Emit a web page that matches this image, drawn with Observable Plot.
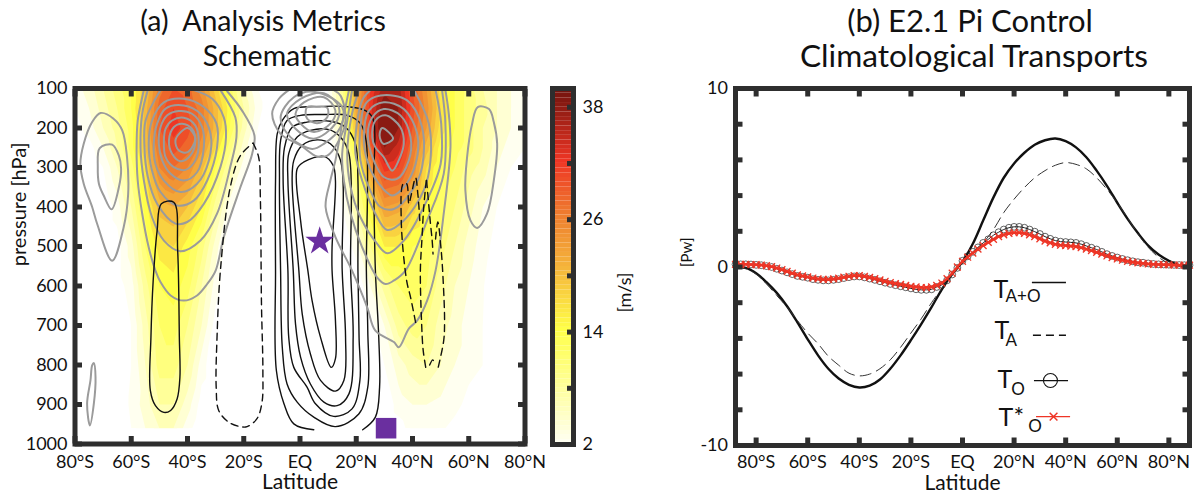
<!DOCTYPE html>
<html><head><meta charset="utf-8">
<script src="https://cdn.jsdelivr.net/npm/d3@7"></script>
<script src="https://cdn.jsdelivr.net/npm/@observablehq/plot@0.6"></script>
<style>
html,body{margin:0;padding:0;background:#fff;font-family:Lato,sans-serif}
#root{position:relative;width:1204px;height:496px;overflow:hidden}
#root svg{position:absolute;top:0;overflow:visible}
.ttl{position:absolute;text-align:center;line-height:36px;color:#111;white-space:pre}
</style></head><body><div id="root"></div>
<script>
// ---- zonal wind field (m/s), rows by pressure, columns by latitude
const gridLat=[-80,-75,-70,-65,-60,-55,-50,-45,-40,-35,-30,-25,-20,-15,-10,-5,0,5,10,15,20,25,30,35,40,45,50,55,60,65,70,75,80];
const gridP=[100,150,200,250,300,400,500,600,700,800,900,960];
const u100=[3,5,8,11,14,20,27,30,29,25,19,13,6,2,0,0,0,0,2,9,22,32,37,37,30,24,17,14,11,8,6,4,3];
const u150=[2,4,7,10,14,21,29,32,30,27,21,15,8,3,0,0,0,0,1,9,23,33,40,38,31,25,18,14,11,9,6,4,3];
const u200=[1,3,6,9,13,21,30,33,31,27,21,14,7,2,0,0,0,0,1,8,21,33,42,38,30,24,17,14,11,8,6,4,2];
const u250=[0,1,4,8,13,20,28,31,29,25,18,11,5,1,0,0,0,0,0,6,16,29,38,35,28,21,15,13,11,8,5,3,2];
const u300=[0,0,2,6,11,18,26,28,26,21,14,8,3,0,0,0,0,0,0,4,12,24,33,32,26,18,14,12,9,7,4,2,1];
const u400=[0,0,0,3,8,15,21,22,20,16,9,3,0,0,0,0,0,0,0,2,8,16,24,23,19,15,13,10,7,4,2,0,0];
const u500=[0,0,0,1,5,12,17,18,15,11,5,0,0,0,0,0,0,0,0,0,3,10,16,16,14,13,11,8,5,3,1,0,0];
const u600=[0,0,0,1,3,9,14,15,13,8,3,0,0,0,0,0,0,0,0,0,0,4,9,12,13,12,9,6,4,2.2,0,0,0];
const u700=[0,0,0,0,2,7,12,13,10,6,1,0,0,0,0,0,0,0,0,0,0,1,4,9,11,10,7,5,3,2,0,0,0];
const u800=[0,0,0,0,2,6,11,11,8,3,0,0,0,0,0,0,0,0,0,0,0,0,2,5,7,8,6,4,3,2,0,0,0];
const u900=[0,0,0,0,2.5,5,8,8,5,1,0,0,0,0,0,0,0,0,0,0,0,0,0,3,4,4,3.5,3,1,0,0,0,0];
const u960=[0,0,0,0,2,4,6,6,3,0,0,0,0,0,0,0,0,0,0,0,0,0,0,1,3,3,2.5,1,0,0,0,0,0];
const windRows=[u100,u150,u200,u250,u300,u400,u500,u600,u700,u800,u900,u960];
const windLevels=[2,4,6,8,10,12,14,16,18,20,22,24,26,28,30,32,34,36,38];
const colorStops=[2,8,14,20,26,32,38,40];
const colorHex=["#fffff0","#ffff99","#ffff48","#f6bb3c","#ee8030","#ee3524","#8a1a12","#6d120c"];

// ---- grey contours, closed [lat,pressure]
const gFarS1=[[-70.9,162],[-66.2,177],[-63.2,206],[-61.5,274],[-61.1,367],[-62.7,451],[-66.8,536],[-72.1,443],[-73.9,400],[-76.9,341],[-78.1,291],[-76.9,240],[-73.9,185]];
const gFarS2=[[-71.2,251],[-66.8,242],[-64.4,270],[-63.6,303],[-64.4,350],[-67,406],[-69.8,371],[-71.5,341],[-71.9,299]];
const gFarS3=[[-73.3,795],[-72.7,831],[-73.3,898],[-74.7,953],[-75.7,898],[-74.5,839],[-73.9,801]];
const gS4=[[-53.8,240],[-52.6,308],[-49.6,362],[-43.7,396],[-37.8,384],[-33,333],[-29.5,249],[-29.7,189],[-34.2,147],[-41.3,126],[-48.4,135],[-52.6,181]];
const gS5=[[-52,240],[-51.4,291],[-48.4,333],[-42.5,362],[-36.6,341],[-32.4,282],[-31.8,215],[-35.4,164],[-41.3,143],[-47.8,151],[-50.8,189]];
const gS6=[[-50.2,240],[-49,282],[-46,316],[-41.3,333],[-36.6,312],[-34.2,249],[-34.8,198],[-38.4,164],[-43.1,157],[-47.2,168],[-49.6,198]];
const gS7=[[-48.4,232],[-47.8,274],[-44.9,299],[-40.7,306],[-37.2,282],[-36,236],[-37.2,194],[-41.3,174],[-45.5,181],[-47.8,202]];
const gS8=[[-46.6,232],[-45.5,265],[-42.5,284],[-39,270],[-37.2,232],[-38.4,202],[-41.9,189],[-44.9,198]];
const gS9=[[-44.3,232],[-43.1,257],[-39.9,261],[-37.2,227],[-39.9,200],[-42.5,211]];
const gT1=[[2,164],[2.6,147],[6.1,146],[9.7,149],[9.7,173],[6.1,188],[2.6,177]];
const gT2=[[-1.6,164],[1.4,135],[8.5,122],[12.6,156],[10.8,189],[4.9,210],[0.2,189]];
const gT3=[[-4.6,164],[0.2,126],[8.5,112],[13.8,147],[12.6,189],[4.9,227],[-1.6,202]];
const gT4=[[-6.9,173],[-2.2,122],[4.9,108],[15,147],[14.4,198],[8.5,240],[4.3,253],[-3.4,223]];
const gN1=[[29.2,200],[33.1,227],[29.6,240],[28.3,219]];
const gN2=[[25.7,223],[26.8,181],[30.4,168],[35.7,198],[36.9,240],[35.1,282],[32.8,308],[29.8,274],[26.8,249]];
const gN3=[[24.1,215],[25.7,173],[29.8,152],[35.7,168],[39.3,223],[38.7,282],[34.5,329],[29.8,324],[26.2,282]];
const gN4=[[22.7,223],[24.5,156],[29.8,135],[36.9,152],[41.7,215],[41.1,291],[36.9,350],[32.8,371],[28,341],[23.9,282]];
const gN5=[[21.3,215],[23.3,139],[28.6,118],[38.1,130],[43.4,198],[43.4,299],[39.9,358],[33.4,405],[28.6,400],[24.5,350],[21.5,282]];
const gFarN=[[63.2,147],[67.2,152],[68.9,185],[70.1,240],[68.9,333],[66.5,417],[63,453],[60.6,434],[58.8,358],[59.4,274],[61.2,189]];
// ---- grey contours, open at the top of the panel
const gS1=[[-25.9,107],[-20.6,156],[-16.2,219],[-17,265],[-21.2,350],[-27.1,476],[-30,561],[-33,595],[-36.6,624],[-41.3,637],[-46,624],[-49.6,590],[-51.4,561],[-53.8,502],[-56.1,417],[-57.7,333],[-58.1,249],[-57.7,181],[-56.1,122],[-55.5,104]];
const gS2=[[-28.3,104],[-23,173],[-22.6,223],[-24.8,299],[-29.5,417],[-35.4,485],[-42.5,512],[-48.4,485],[-52.6,426],[-55.5,333],[-56.7,249],[-56.1,164],[-54.1,104]];
const gS3=[[-49.6,104],[-54.9,181],[-55.3,249],[-54.1,324],[-50.8,392],[-44.3,442],[-40.1,438],[-34.2,392],[-28.3,299],[-26.3,223],[-27.1,173],[-31.2,126],[-37.8,104]];
const gT5=[[-4,104],[-7.5,126],[-9.9,164],[-6.9,215],[0.2,244],[6.1,272],[9.7,270],[13.2,240],[16.2,181],[14.4,118],[12,104]];
const gN6=[[25.1,104],[22.1,130],[19.7,223],[19.7,265],[22.1,333],[26.8,417],[31,458],[36.9,434],[44,358],[46.4,282],[45.8,189],[40.5,104]];
const gN7=[[21,104],[18.5,164],[16.8,265],[18,350],[21.5,426],[27.4,493],[31,517],[36.9,485],[44,400],[50,291],[50.2,189],[48.2,104]];
const gN8=[[18.5,104],[16.8,181],[15,265],[15.6,333],[18,417],[22.1,502],[27.4,578],[30.4,595],[33.4,586],[37.5,561],[45.2,434],[51.1,316],[51.7,189],[50.5,104]];
const gN9=[[17.4,104],[15,189],[12.6,282],[10.8,333],[9.1,400],[12.6,476],[18.5,561],[23.9,654],[26.8,713],[33.4,742],[35.1,755],[38.7,708],[41.7,687],[45.2,637],[48.2,561],[51.1,417],[53.5,249],[52.9,164],[51.7,104]];
// ---- black solid contours
const kS=[[-49.3,392],[-44.9,388],[-43.5,510],[-42.9,730],[-42.7,831],[-43.7,886],[-46,915],[-48.4,920],[-51.4,903],[-53.2,865],[-53,730],[-52.2,586],[-50.8,460]];
const kE1=[[11.1,806],[7.3,730],[4.3,637],[2.8,561],[0.2,434],[-1,303],[1.4,286],[8.5,272],[11.8,295],[12.6,333],[11.4,502],[11.4,561],[12.6,687],[12.6,784]];
const kE2=[[12.6,866],[7.3,839],[3.7,772],[0.8,671],[-0.4,561],[-2.8,333],[-2.2,282],[0.8,244],[6.1,230],[10.8,240],[14.4,282],[15,561],[16.2,730],[15.6,839]];
const kE3=[[13.2,903],[8.5,894],[3.7,848],[0.2,780],[-1.6,696],[-2.4,561],[-4.3,333],[-4,265],[-1,223],[3.7,206],[10.3,204],[14.4,223],[17.4,265],[18,561],[18.9,730],[17.4,873]];
const kE4=[[12,930],[5.5,898],[2.5,856],[-2.2,806],[-4,730],[-4.3,561],[-6,333],[-5.5,249],[-2.8,198],[2.5,185],[10.8,183],[16.2,198],[19.7,240],[20.6,333],[20.6,561],[21,730],[21.3,839],[18.5,911]];
const kE5=[[12.6,956],[4.9,932],[-1,894],[-4.6,848],[-6.3,755],[-6.9,561],[-7.3,333],[-6.9,232],[-4.6,181],[0.2,168],[8.5,166],[16.8,168],[21.5,189],[23.5,232],[23.6,561],[24.1,713],[24.1,856],[20.9,924]];
const kE6=[[4.9,964],[-2.2,949],[-5.7,898],[-8.4,814],[-8.7,561],[-8.7,333],[-8.1,215],[-6.3,181],[-2.2,151],[4.9,146],[16.8,146],[23.3,156],[26,177],[26.2,333],[26.8,561],[28,730],[28.3,856],[26.8,932],[22.3,964]];
// ---- black dashed contours
const dS=[[-16.7,238],[-14.7,274],[-14.1,375],[-13.7,645],[-13.2,814],[-13.5,894],[-15.3,936],[-18.8,956],[-21.2,956],[-25.3,945],[-28.9,915],[-29.8,856],[-29.5,730],[-28.3,561],[-24.8,350],[-21.2,270],[-16.7,238]];
const dN1=[[41.1,692],[39.3,628],[37.9,586],[36,434],[36.7,341],[37.9,341],[38.7,392],[39.5,371],[41.1,326],[41.9,367],[42.6,434]];
const dN2=[[44.9,333],[44,400],[43.4,476],[42.8,561],[43.2,687],[43.8,763],[44.9,814]];
const dN3=[[45,333],[45.8,396],[46.4,443],[47,485],[47.3,519]];
const dN4=[[48.2,481],[49,438],[50.2,510],[50.9,586],[51.4,687],[51.1,738],[49,810]];
const dN5=[[46.1,800],[47.2,787],[48,800]];
const markerStar=[[7,487]];
const markerSquare=[[30.6,960]];

// ---- transports [Pw]
const latCoarse=[-88,-84,-80,-76,-72,-68,-64,-60,-56,-52,-48,-44,-40,-36,-32,-28,-24,-20,-16,-12,-8,-4,0,4,8,12,16,20,24,28,32,36,40,44,48,52,56,60,64,68,72,76,80,84,88];
const tAO=[0,-.05,-.35,-.85,-1.45,-2.2,-3.1,-4.05,-4.95,-5.7,-6.25,-6.6,-6.75,-6.65,-6.3,-5.7,-4.95,-4.1,-3.2,-2.25,-1.25,-.4,.3,1.3,2.6,3.9,5,5.8,6.4,6.85,7.1,7.2,7.05,6.7,6.15,5.4,4.55,3.6,2.7,1.9,1.2,.7,.35,.1,.05];
const tA=[0,-.1,-.4,-.95,-1.6,-2.25,-3,-3.7,-4.3,-5,-5.5,-5.95,-6.1,-6,-5.7,-5.2,-4.5,-3.7,-2.9,-2,-1.2,-.45,.2,.75,1.35,2.1,3.05,3.8,4.45,5,5.4,5.7,5.85,5.75,5.5,5,4.35,3.6,2.75,1.85,1.1,.55,.2,.05,0];
const latFine=d3.range(-88,89,2);
const tO=[.15,.15,.15,.14,.12,.1,.05,0,-.1,-.2,
-.3,-.4,-.5,-.55,-.6,-.68,-.72,-.75,-.75,-.72,
-.68,-.62,-.57,-.53,-.53,-.58,-.65,-.72,-.8,-.88,
-.95,-1.02,-1.08,-1.14,-1.2,-1.25,-1.28,-1.28,-1.25,-1.12,
-1.0,-.75,-.42,-.05,.35,.6,.85,1.1,1.35,1.55,
1.78,1.95,2.1,2.2,2.25,2.25,2.2,2.1,1.98,1.85,
1.7,1.58,1.48,1.42,1.4,1.38,1.35,1.28,1.18,1.08,
.98,.85,.72,.62,.53,.45,.38,.32,.27,.24,
.2,.17,.15,.14,.13,.12,.11,.1,.1];
const tOstar=[.15,.15,.15,.14,.13,.11,.07,.02,-.06,-.15,
-.25,-.35,-.44,-.5,-.56,-.62,-.67,-.7,-.7,-.67,
-.63,-.57,-.52,-.48,-.48,-.52,-.58,-.65,-.72,-.8,
-.87,-.93,-.98,-1.03,-1.08,-1.12,-1.15,-1.15,-1.12,-1.03,
-.9,-.65,-.35,0,.32,.55,.78,1.0,1.2,1.38,
1.55,1.7,1.8,1.88,1.92,1.92,1.88,1.8,1.7,1.58,
1.45,1.35,1.27,1.22,1.2,1.17,1.14,1.08,1.0,.92,
.82,.72,.62,.53,.45,.38,.32,.27,.23,.2,
.17,.15,.14,.13,.12,.11,.1,.1,.1];

// ---- tick labels
const latTicks=[-80,-60,-40,-20,0,20,40,60,80];
const latLabels=["80°S","60°S","40°S","20°S","EQ","20°N","40°N","60°N","80°N"];
const pTicks=[100,200,300,400,500,600,700,800,900,1000];
const cbTicks=[2,8,14,20,26,32,38];
const cbLabelled=[2,14,26,38];
const pwTicks=[-10,-8,-6,-4,-2,0,2,4,6,8,10];
const pwLabelled=[-10,0,10];

// ---- legend placement (panel b, in data units)
const legendLines=[
 {k:"a",x1:27.1,x2:40.3,y:-.87},
 {k:"b",x1:27.5,x2:40.3,y:-3.82},
 {k:"c",x1:27.9,x2:41.1,y:-6.36},
 {k:"d",x1:28.7,x2:41.9,y:-8.38}];
const legendT=[{x:12,y:-1.71,t:"T"},{x:12.4,y:-4.02,t:"T"},{x:13.6,y:-6.8,t:"T"},{x:14,y:-8.92,t:"T*"}];
const legendSub=[{x:16.7,y:-1.97,t:"A+O"},{x:16.7,y:-4.4,t:"A"},{x:18.9,y:-7.15,t:"O"},{x:25.5,y:-9.27,t:"O"}];

const ink="#2e2e2e", FS=18;
const color={type:"linear",domain:colorStops,range:colorHex};
const table=list=>Object.entries(list).flatMap(([id,pts])=>pts.map(([x,y])=>({id,x,y})));
const gridPts=gridP.flatMap((p,i)=>gridLat.map((lat,j)=>({lat,p,u:windRows[i][j]})));
const frameMarks=(xT,yT)=>[
  Plot.axisX({anchor:"top",ticks:xT,tickSize:-7.5,strokeWidth:5,stroke:ink,tickFormat:()=>"",label:null}),
  Plot.axisY({anchor:"right",ticks:yT,tickSize:-7.5,strokeWidth:5,stroke:ink,tickFormat:()=>"",label:null}),
  Plot.frame({stroke:ink,strokeWidth:5})];
const style={fontFamily:"Lato, sans-serif",background:"transparent",color:"#111"};

const grey=[gFarS1,gFarS2,gFarS3,gS4,gS5,gS6,gS7,gS8,gS9,gT1,gT2,gT3,gT4,gN1,gN2,gN3,gN4,gN5,gFarN];
const greyOpen=[gS1,gS2,gS3,gT5,gN6,gN7,gN8,gN9];
const blackEq=[kE1,kE2,kE3,kE4,kE5];
const dashed=[dS,dN1,dN2,dN3,dN4,dN5];

const left=Plot.plot({width:540,height:496,marginLeft:74.5,marginRight:15.5,marginTop:88,marginBottom:52.5,style,
  x:{domain:[-80,80]},y:{domain:[1000,100]},color,
  marks:[
   Plot.contour(gridPts,{x:"lat",y:"p",fill:"u",interpolate:"barycentric",thresholds:windLevels,x1:-80,x2:80,y1:963,y2:100,pixelSize:1,stroke:"none",clip:true}),
   Plot.line(table(blackEq),{x:"x",y:"y",z:"id",curve:"catmull-rom-closed",stroke:"#111",strokeWidth:1.4}),
   Plot.line(kE6,{x:d=>d[0],y:d=>d[1],curve:"catmull-rom",stroke:"#111",strokeWidth:1.4}),
   Plot.line(table(grey),{x:"x",y:"y",z:"id",curve:"catmull-rom-closed",stroke:"#9b9b9b",strokeWidth:2,clip:"frame"}),
   Plot.line(table(greyOpen),{x:"x",y:"y",z:"id",curve:"catmull-rom",stroke:"#9b9b9b",strokeWidth:2,clip:"frame"}),
   Plot.line(kS,{x:d=>d[0],y:d=>d[1],curve:"catmull-rom-closed",stroke:"#111",strokeWidth:1.4}),
   Plot.line(table(dashed),{x:"x",y:"y",z:"id",curve:"catmull-rom",stroke:"#111",strokeWidth:1.4,strokeDasharray:"7,5"}),
   Plot.dot(markerStar,{x:d=>d[0],y:d=>d[1],symbol:"star",r:9,fill:"#6a2f9f",stroke:"none"}),
   Plot.dot(markerSquare,{x:d=>d[0],y:d=>d[1],symbol:"square",r:11.6,fill:"#6a2f9f",stroke:"none"}),
   Plot.axisX({ticks:latTicks,tickSize:-7.5,strokeWidth:5,stroke:ink,tickPadding:19,fontSize:FS,fill:"#111",tickFormat:d=>latLabels[latTicks.indexOf(d)],label:null}),
   Plot.axisY({ticks:pTicks,tickSize:-7.5,strokeWidth:5,stroke:ink,tickPadding:15,fontSize:FS,fill:"#111",tickFormat:d=>String(d),label:null}),
   ...frameMarks(latTicks,pTicks),
   Plot.text(["Latitude"],{frameAnchor:"bottom",dy:45,fontSize:21,fill:"#111"}),
   Plot.text(["pressure [hPa]"],{frameAnchor:"left",rotate:-90,dx:-55,fontSize:20,fill:"#111"})
  ]});
left.style.left="0px";

const bar=Plot.plot({width:100,height:496,marginLeft:12,marginRight:67,marginTop:88,marginBottom:52,style,
  x:{domain:[0,1],axis:null},y:{domain:[2,40]},color,
  marks:[
   Plot.rect(d3.range(2,40,.5),{x1:0,x2:1,y1:d=>d,y2:d=>d+.5,fill:d=>d,inset:0}),
   Plot.axisY({anchor:"right",ticks:cbTicks,tickSize:-7,strokeWidth:5,stroke:ink,tickPadding:16,fontSize:FS,fill:"#111",tickFormat:d=>cbLabelled.includes(d)?d:"",label:null}),
   Plot.frame({stroke:ink,strokeWidth:5}),
   Plot.text(["[m/s]"],{frameAnchor:"right",rotate:-90,dx:52,dy:6,fontSize:FS,fill:"#111"})
  ]});
bar.style.left="540px";

const right=Plot.plot({width:544,height:496,marginLeft:75,marginRight:15,marginTop:88,marginBottom:51,style,
  x:{domain:[-88,88]},y:{domain:[-10,10]},
  marks:[
   Plot.line(latCoarse,{x:d=>d,y:(d,i)=>tAO[i],curve:"catmull-rom",stroke:"#111",strokeWidth:2.4}),
   Plot.line(latCoarse,{x:d=>d,y:(d,i)=>tA[i],curve:"catmull-rom",stroke:"#333",strokeWidth:1,strokeDasharray:"11,6"}),
   Plot.line(latFine,{x:d=>d,y:(d,i)=>tO[i],curve:"catmull-rom",stroke:"#222",strokeWidth:1}),
   Plot.dot(latFine,{x:d=>d,y:(d,i)=>tO[i],r:3.4,stroke:"#222",strokeWidth:.7,fill:"none"}),
   Plot.line(latFine,{x:d=>d,y:(d,i)=>tOstar[i],curve:"catmull-rom",stroke:"#ee3526",strokeWidth:2.5}),
   Plot.dot(latFine,{x:d=>d,y:(d,i)=>tOstar[i],r:3.2,symbol:"times",stroke:"#ee3526",strokeWidth:1.3}),
   Plot.axisX({ticks:latTicks,tickSize:-7.5,strokeWidth:5,stroke:ink,tickPadding:17,fontSize:FS,fill:"#111",tickFormat:d=>latLabels[latTicks.indexOf(d)],label:null}),
   Plot.axisY({ticks:pwTicks,tickSize:-7.5,strokeWidth:5,stroke:ink,tickPadding:15,fontSize:FS,fill:"#111",tickFormat:d=>pwLabelled.includes(d)?d:"",label:null}),
   ...frameMarks(latTicks,pwTicks),
   Plot.text(["Latitude"],{frameAnchor:"bottom",dy:44,fontSize:21,fill:"#111"}),
   Plot.text(["[Pw]"],{frameAnchor:"left",rotate:-90,dx:-48,fontSize:15,fill:"#111"}),
   Plot.ruleY(legendLines.slice(0,1),{x1:"x1",x2:"x2",y:"y",stroke:"#111",strokeWidth:1.4}),
   Plot.ruleY(legendLines.slice(1,2),{x1:"x1",x2:"x2",y:"y",stroke:"#111",strokeWidth:1.4,strokeDasharray:"8,5"}),
   Plot.ruleY(legendLines.slice(2,3),{x1:"x1",x2:"x2",y:"y",stroke:"#111",strokeWidth:1.2}),
   Plot.dot([34.1],{x:d=>d,y:()=>-6.36,r:7,stroke:"#111",strokeWidth:1.1,fill:"none"}),
   Plot.ruleY(legendLines.slice(3),{x1:"x1",x2:"x2",y:"y",stroke:"#ee3526",strokeWidth:1.4}),
   Plot.dot([35.3],{x:d=>d,y:()=>-8.38,r:3.6,symbol:"times",stroke:"#ee3526",strokeWidth:1.5}),
   Plot.text(legendT,{x:"x",y:"y",text:"t",textAnchor:"start",lineAnchor:"bottom",fontSize:25,fill:"#111"}),
   Plot.text(legendSub,{x:"x",y:"y",text:"t",textAnchor:"start",lineAnchor:"bottom",fontSize:17,fill:"#111"})
  ]});
right.style.left="660px";

const root=document.getElementById("root");
root.append(left,bar,right);
[["(a)  Analysis Metrics",263,2,28.5],["Schematic",267,37,28.5],["(b) E2.1 Pi Control",970,2,31],["Climatological Transports",974,37,31.7]].forEach(([t,cx,top,fs])=>{
  const d=document.createElement("div");d.className="ttl";d.textContent=t;d.style.fontSize=fs+"px";
  d.style.left=(cx-300)+"px";d.style.width="600px";d.style.top=top+"px";root.append(d);
});
</script></body></html>
